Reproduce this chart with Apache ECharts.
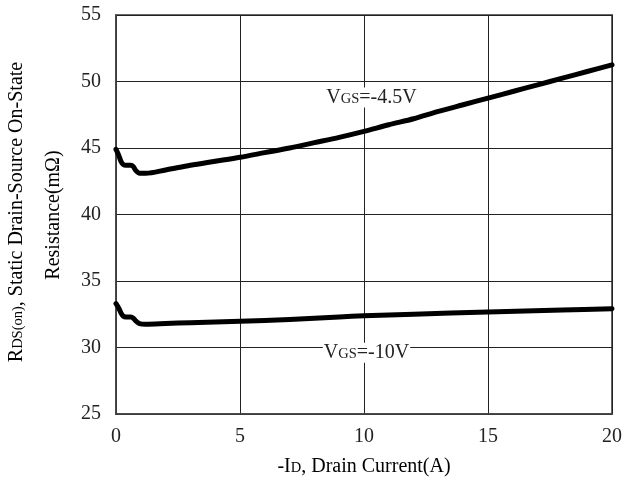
<!DOCTYPE html>
<html><head><meta charset="utf-8">
<script src="https://cdn.jsdelivr.net/npm/echarts@6/dist/echarts.min.js"></script>
<style>html,body{margin:0;padding:0;background:#fff}#c{width:625px;height:493px}</style>
</head><body><div id="c"></div>
<script>
var xTicks = [0, 5, 10, 15, 20];
var yTicks = [25, 30, 35, 40, 45, 50, 55];
var vgs45 = [[0,44.9],[0.1,44.5],[0.2,44.0],[0.3,43.75],[0.4,43.7],[0.6,43.7],[0.7,43.6],[0.8,43.3],[0.95,43.1],[1.2,43.1],[2,43.35],[3,43.7],[4,44.0],[5,44.3],[6,44.65],[7,45.0],[8,45.4],[9,45.8],[10,46.25],[11,46.75],[12,47.2],[13,47.75],[14,48.25],[15,48.75],[16,49.25],[17,49.75],[18,50.25],[19,50.75],[20,51.25]];
var vgs10 = [[0,33.3],[0.1,33.0],[0.2,32.6],[0.3,32.35],[0.4,32.3],[0.6,32.3],[0.7,32.2],[0.8,32.0],[0.95,31.8],[1.2,31.75],[2,31.8],[3,31.87],[5,31.97],[7,32.1],[9,32.3],[10,32.38],[12,32.5],[15,32.67],[18,32.82],[20,32.92]];
var labels = [{name:'-4.5V', at:[10.3,48.8]}, {name:'-10V', at:[10.1,29.6]}];

var FONT = '"Liberation Serif", "DejaVu Serif", serif';
var chart = echarts.init(document.getElementById('c'));
var rich = {
  big:{fontFamily:FONT,fontSize:20,color:'#222'},
  sm:{fontFamily:FONT,fontSize:14.5,color:'#222',verticalAlign:'bottom',padding:[0,0,1,0]}
};
function mk(lbl){
  return {symbol:'circle', symbolSize:0, itemStyle:{color:'rgba(0,0,0,0)'},
    data:[{coord:lbl.at, value:lbl.name}],
    label:{show:true, position:'inside', formatter:'{big|V}{sm|GS}{big|=' + lbl.name + '}',
      backgroundColor:'#fff', padding:[0,1,0,1], rich:rich}};
}
chart.setOption({
  animation:false,
  grid:{left:116, top:15, width:496, height:399},
  xAxis:{type:'value', min:xTicks[0], max:xTicks[xTicks.length-1], interval:5,
    axisLine:{show:true, onZero:false, lineStyle:{color:'#444', width:1.5}},
    axisTick:{show:false},
    axisLabel:{fontFamily:FONT, fontSize:20, color:'#222', margin:13},
    splitLine:{show:true, lineStyle:{color:'#222', width:1}}},
  yAxis:{type:'value', min:yTicks[0], max:yTicks[yTicks.length-1], interval:5,
    axisLine:{show:true, lineStyle:{color:'#444', width:1.5}},
    axisTick:{show:false},
    axisLabel:{fontFamily:FONT, fontSize:20, color:'#222', margin:15},
    splitLine:{show:true, lineStyle:{color:'#222', width:1}}},
  graphic:[
    {type:'rect', shape:{x:116,y:15,width:496,height:399}, style:{fill:'none', stroke:'#666', lineWidth:2}, z:0, silent:true},
    {type:'text', x:364, y:467, style:{text:'{big|-I}{sm|D}{big|, Drain Current(A)}', rich:rich, align:'center', verticalAlign:'middle'}},
    {type:'text', x:17, y:212, rotation:Math.PI/2, style:{text:'{big|R}{sm|DS(on)}{big|, Static Drain-Source On-State}', rich:rich, align:'center', verticalAlign:'middle'}},
    {type:'text', x:54, y:215, rotation:Math.PI/2, style:{text:'{big|Resistance(m\u03A9)}', rich:rich, align:'center', verticalAlign:'middle'}}
  ],
  series:[
    {type:'line', data:vgs45, showSymbol:false, smooth:0.3, lineStyle:{color:'#000', width:5, cap:'round', join:'round'}, markPoint:mk(labels[0]), z:3},
    {type:'line', data:vgs10, showSymbol:false, smooth:0.3, lineStyle:{color:'#000', width:5, cap:'round', join:'round'}, markPoint:mk(labels[1]), z:3}
  ]
});
</script></body></html>
